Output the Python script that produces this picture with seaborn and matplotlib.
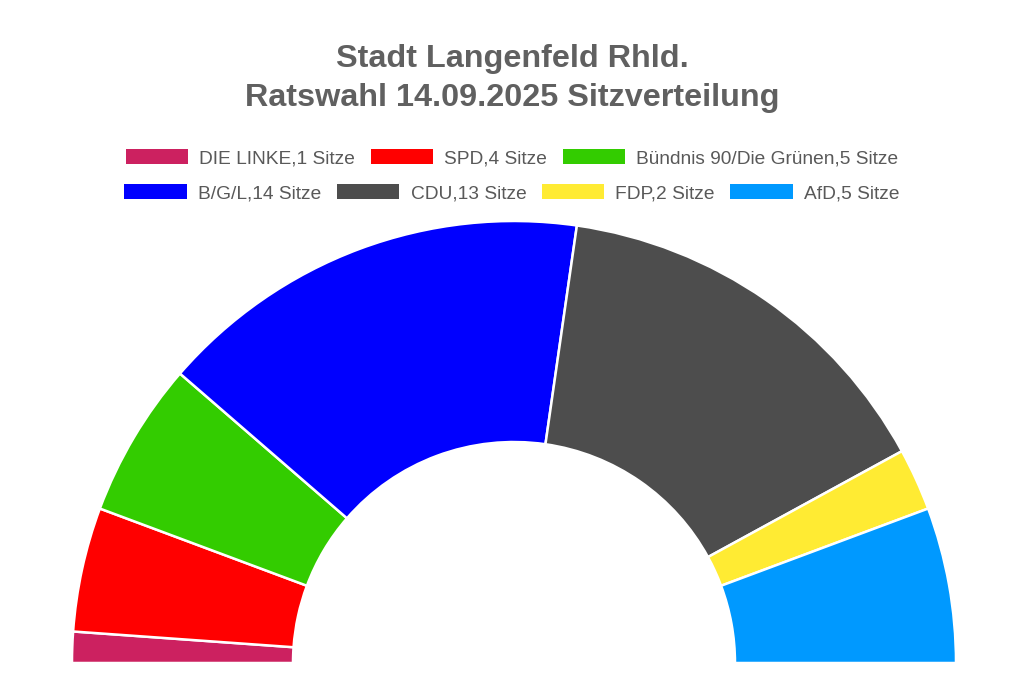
import seaborn as sns
import matplotlib.pyplot as plt
from matplotlib.patches import Patch

# seat distribution, left to right
parties = ["DIE LINKE", "SPD", "Bündnis 90/Die Grünen", "B/G/L", "CDU", "FDP", "AfD"]
seats = [1, 4, 5, 14, 13, 2, 5]
colors = ["#CC2160", "#FF0000", "#33CC00", "#0000FF", "#4D4D4D", "#FFEB33", "#0099FF"]
row1 = [0, 1, 2]
row2 = [3, 4, 5, 6]

sns.set_theme(style="white")
plt.rcParams["font.family"] = ["Liberation Sans", "DejaVu Sans"]

fig = plt.figure(figsize=(10.24, 6.96), dpi=100)
# semicircle: radius 1 -> 442 px, centre at (514, 663) px
ax = fig.add_axes([72 / 1024, 33 / 696, 884 / 1024, 442 / 696])

total = sum(seats)
ax.pie(seats + [total], colors=colors + ["none"], startangle=180, counterclock=False,
       radius=1, wedgeprops=dict(width=0.5, edgecolor="white", linewidth=1.8))
ax.patches[-1].set_visible(False)
ax.set_xlim(-1, 1)
ax.set_ylim(0, 1)
ax.set_aspect("auto")
ax.axis("off")
for p in ax.patches:
    p.set_clip_on(False)

fig.text(0.5, 1 - 59 / 696, "Stadt Langenfeld Rhld.", ha="center", va="center",
         fontsize=23.3, fontweight="bold", color="#606060")
fig.text(0.5, 1 - 98 / 696, "Ratswahl 14.09.2025 Sitzverteilung", ha="center", va="center",
         fontsize=23.3, fontweight="bold", color="#606060")

fs = 13.8
for idx, y in [(row1, 158), (row2, 193)]:
    handles = [Patch(facecolor=colors[i], edgecolor="none") for i in idx]
    labels = [f"{parties[i]},{seats[i]} Sitze" for i in idx]
    leg = fig.legend(handles, labels, loc="center", bbox_to_anchor=(0.5, 1 - y / 696),
                     ncol=len(idx), frameon=False, fontsize=fs, handlelength=3.25,
                     handleheight=0.85, handletextpad=0.6, columnspacing=0.8, borderpad=0)
    for t in leg.get_texts():
        t.set_color("#595959")

fig.savefig("out.png", dpi=100, facecolor="white")
